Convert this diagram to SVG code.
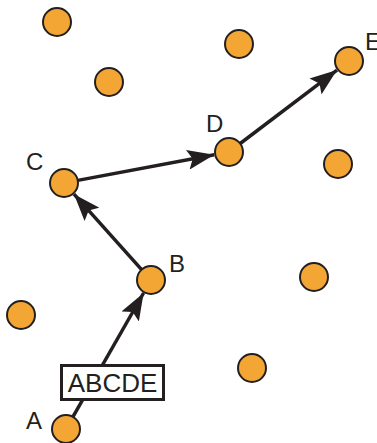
<svg xmlns="http://www.w3.org/2000/svg" width="377" height="443" viewBox="0 0 377 443">
<style>
.n{fill:#f3a633;stroke:#231f20;stroke-width:2}
.e{stroke:#231f20;stroke-width:3.5;fill:none}
.l{font-family:"Liberation Sans",Arial,sans-serif;font-size:24px;fill:#231f20}
</style>
<defs>
<marker id="ah" viewBox="0 0 27 20" refX="27" refY="10" markerWidth="27" markerHeight="20" markerUnits="userSpaceOnUse" orient="auto">
<path d="M0,0 L27,10 L0,20 L5,10 z" fill="#231f20"/>
</marker>
</defs>
<rect width="377" height="443" fill="#fff"/>
<g id="connectors">
<line class="e" x1="72.9" y1="416.8" x2="143.6" y2="293.0" marker-end="url(#ah)"/>
<line class="e" x1="141.6" y1="269.6" x2="74.0" y2="194.2" marker-end="url(#ah)"/>
<line class="e" x1="77.8" y1="180.4" x2="214.3" y2="154.8" marker-end="url(#ah)"/>
<line class="e" x1="240.2" y1="143.5" x2="337.0" y2="70.1" marker-end="url(#ah)"/>
</g>
<g id="label-box">
<rect x="61.5" y="365.5" width="102" height="34" fill="#fff" stroke="#231f20" stroke-width="3"/>
<text class="l" x="112.5" y="392" text-anchor="middle" style="font-size:26px">ABCDE</text>
</g>
<g id="n1"><circle class="n" cx="57" cy="22" r="14"/></g>
<g id="n2"><circle class="n" cx="109" cy="82" r="14"/></g>
<g id="n3"><circle class="n" cx="239" cy="44" r="14"/></g>
<g id="nE"><circle class="n" cx="349" cy="61" r="14"/><text class="l" x="365" y="50">E</text></g>
<g id="nD"><circle class="n" cx="229" cy="152" r="14"/><text class="l" x="206" y="132">D</text></g>
<g id="n4"><circle class="n" cx="338" cy="164" r="14"/></g>
<g id="nC"><circle class="n" cx="64" cy="183" r="14"/><text class="l" x="26" y="170">C</text></g>
<g id="nB"><circle class="n" cx="151" cy="280" r="14"/><text class="l" x="169" y="272">B</text></g>
<g id="n5"><circle class="n" cx="314" cy="277" r="14"/></g>
<g id="n6"><circle class="n" cx="21" cy="315" r="14"/></g>
<g id="n7"><circle class="n" cx="252" cy="368" r="14"/></g>
<g id="nA"><circle class="n" cx="66" cy="429" r="14"/><text class="l" x="26" y="429">A</text></g>
</svg>
